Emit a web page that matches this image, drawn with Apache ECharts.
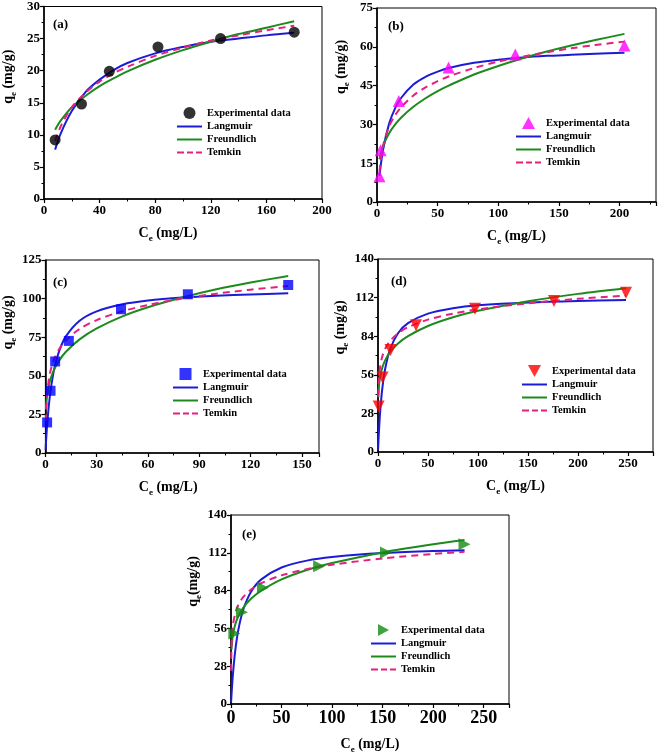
<!DOCTYPE html>
<html>
<head>
<meta charset="utf-8">
<script src="https://cdn.jsdelivr.net/npm/echarts@6/dist/echarts.min.js"></script>
<style>
html,body{margin:0;padding:0;background:#fff;}
#chart{width:658px;height:755px;}
</style>
</head>
<body>
<div id="chart"></div>
<script>
// ---------- Data ----------
// Panel (a)
const expX_a = [8, 27, 47, 82, 127, 180];
const expY_a = [9.2, 14.8, 19.9, 23.7, 25.0, 26.0];
const fitX_a = [8, 12, 20, 30, 40, 50, 60, 80, 100, 120, 140, 160, 180];
const lang_a = [7.7, 10.2, 13.7, 16.7, 18.6, 20.1, 21.2, 22.7, 23.7, 24.5, 25.0, 25.5, 25.9];
const freu_a = [10.8, 12.2, 14.3, 16.1, 17.6, 18.8, 19.9, 21.7, 23.2, 24.5, 25.7, 26.7, 27.7];
const temk_a = [9.0, 11.3, 14.3, 16.6, 18.3, 19.6, 20.6, 22.3, 23.6, 24.7, 25.5, 26.3, 27.0];

// Panel (b)
const expX_b = [2, 3, 18, 59, 114, 204];
const expY_b = [10, 20, 39, 52, 57, 60.5];
const fitX_b = [2, 5, 10, 15, 20, 30, 40, 50, 60, 80, 100, 120, 140, 160, 180, 204];
const lang_b = [10.1, 20.2, 30.3, 36.3, 40.3, 45.4, 48.4, 50.4, 51.9, 53.8, 55.0, 55.9, 56.5, 56.9, 57.3, 57.7];
const freu_b = [16.5, 21.7, 26.6, 30.0, 32.7, 36.8, 40.1, 42.9, 45.2, 49.3, 52.6, 55.6, 58.2, 60.5, 62.6, 65.0];
const temk_b = [11.7, 21.7, 29.2, 33.6, 36.7, 41.2, 44.3, 46.7, 48.7, 51.8, 54.3, 56.2, 57.9, 59.4, 60.7, 62.0];

// Panel (c)
const expX_c = [1, 3, 5.7, 13.7, 44.2, 83.3, 142];
const expY_c = [19.8, 40.3, 59.3, 72.6, 93.1, 102.8, 108.8];
const fitX_c = [0.1, 0.3, 1, 2, 3, 5, 8, 12, 20, 30, 45, 60, 80, 100, 120, 142];
const lang_c = [2.1, 6.1, 17.8, 30.6, 40.1, 53.5, 65.8, 75.5, 85.6, 91.7, 96.3, 98.8, 100.7, 101.9, 102.7, 103.4];
const freu_c = [null, 28.5, 37.4, 43.7, 47.9, 53.8, 59.8, 65.6, 73.6, 80.7, 88.5, 94.4, 100.7, 106.0, 110.4, 114.7];
const temk_c = [null, 20.4, 37.6, 47.5, 53.3, 60.5, 67.2, 73.0, 80.3, 86.1, 91.8, 95.9, 100.0, 103.2, 105.8, 108.2];

// Panel (d)
const expX_d = [0.6, 4.5, 12.5, 38, 97, 176, 248];
const expY_d = [33, 54, 74, 92, 104, 109.6, 115.6];
const fitX_d = [0.1, 0.3, 1, 2, 4, 7, 12, 20, 30, 50, 75, 100, 150, 200, 248];
const lang_d = [1.8, 5.2, 15.6, 27.4, 44.1, 59.7, 74.3, 86.1, 93.5, 100.4, 104.3, 106.4, 108.5, 109.6, 110.2];
const freu_d = [null, 39.6, 48.2, 54.0, 60.5, 66.3, 72.4, 78.7, 84.1, 91.4, 97.7, 102.4, 109.4, 114.7, 118.8];
const temk_d = [null, 40.5, 53.6, 61.1, 68.6, 74.7, 80.5, 86.1, 90.5, 96.0, 100.4, 103.5, 107.9, 111.1, 113.4];

// Panel (e)
const expX_e = [3.3, 10.8, 31.6, 87.2, 153.3, 231];
const expY_e = [52.3, 68, 86.2, 102.1, 112.2, 118.3];
const fitX_e = [0.1, 0.5, 1, 2, 4, 7, 12, 20, 30, 50, 75, 100, 150, 200, 231];
const lang_e = [1.4, 6.7, 12.6, 22.8, 38.3, 53.9, 69.6, 83.3, 92.3, 101.1, 106.2, 108.9, 111.8, 113.3, 113.9];
const freu_e = [null, 40.2, 45.5, 51.6, 58.4, 64.6, 71.2, 78.1, 84.0, 92.3, 99.3, 104.4, 112.3, 118.3, 121.4];
const temk_e = [24.6, 42.9, 50.8, 58.7, 66.6, 73.0, 79.1, 84.9, 89.5, 95.3, 99.9, 103.2, 107.8, 111.1, 112.7];

const panelLabels = ['(a)', '(b)', '(c)', '(d)', '(e)'];
const legendNames = ['Experimental data', 'Langmuir', 'Freundlich', 'Temkin'];

// ---------- Styling / layout ----------
const F = '"Liberation Serif", "Times New Roman", serif';
const C_LANG = '#1c1cd6', C_FREU = '#1e8a1e', C_TEMK = '#e6207e';

const ICON_LINE = 'path://M0,0h25v2h-25z';
const ICON_DASH = 'path://M0,0h7v2h-7z M10,0h6v2h-6z M19,0h6v2h-6z';
const ICONS = {
  circle:'circle',
  up:'path://M6,0L12,11L0,11Z',
  down:'path://M0,0L12,0L6,11Z',
  right:'path://M0,0L11,6L0,12Z',
  square:'path://M0,0h10v10h-10z'
};

const panels = [
  {key:'a', expX:expX_a, expY:expY_a, fitX:fitX_a, lang:lang_a, freu:freu_a, temk:temk_a,
   grid:{left:43, top:5, width:279, height:194}, xMax:200, xInt:40, yMax:30, yInt:5,
   symbol:'circle', symRot:0, symSize:11, symColor:'#000', icon:ICONS.circle,
   legend:{left:177, top:107}, label:{left:53, top:18}, yName:'{m|q}{s|e}{m| (mg/g)}', xFont:13, yPad:52, xPad:[0,30,0,0]},
  {key:'b', expX:expX_b, expY:expY_b, fitX:fitX_b, lang:lang_b, freu:freu_b, temk:temk_b,
   grid:{left:377, top:8, width:279, height:194}, xMax:230, xInt:50, yMax:75, yInt:15,
   symbol:'triangle', symRot:0, symSize:12, symColor:'#ff00ff', icon:ICONS.up,
   legend:{left:516, top:117}, label:{left:388, top:20}, yName:'{m|q}{s|e}{m| (mg/g)}', xFont:13, yPad:76, xPad:[0,0,0,0]},
  {key:'c', expX:expX_c, expY:expY_c, fitX:fitX_c, lang:lang_c, freu:freu_c, temk:temk_c,
   grid:{left:39, top:260, width:280, height:193}, xMax:160, xInt:30, yMax:125, yInt:25,
   symbol:'rect', symRot:0, symSize:10, symColor:'#0000ff', icon:ICONS.square,
   legend:{left:173, top:368}, label:{left:53, top:276}, yName:'{m|q}{s|e}{m| (mg/g)}', xFont:13, yPad:68, xPad:[0,28,0,0]},
  {key:'d', expX:expX_d, expY:expY_d, fitX:fitX_d, lang:lang_d, freu:freu_d, temk:temk_d,
   grid:{left:378, top:259, width:275, height:193}, xMax:275, xInt:50, yMax:140, yInt:28,
   symbol:'triangle', symRot:180, symSize:12, symColor:'#ff0000', icon:ICONS.down,
   legend:{left:522, top:365}, label:{left:391, top:275}, yName:'{m|q}{s|e}{m| (mg/g)}', xFont:13, yPad:56, xPad:[0,0,0,0]},
  {key:'e', expX:expX_e, expY:expY_e, fitX:fitX_e, lang:lang_e, freu:freu_e, temk:temk_e,
   grid:{left:231, top:515, width:278, height:193}, xMax:275, xInt:50, yMax:140, yInt:28,
   symbol:'triangle', symRot:-90, symSize:12, symColor:'#138a13', icon:ICONS.right,
   legend:{left:371, top:624}, label:{left:242, top:528}, yName:'{m|q}{s|e}{m|(mg/g)}', xFont:18, yPad:56, xPad:[0,0,0,0]}
];

const rich = {
  m:{fontFamily:F, fontWeight:'bold', fontSize:14, lineHeight:20, verticalAlign:'middle', color:'#000'},
  s:{fontFamily:F, fontWeight:'bold', fontSize:9, lineHeight:10, verticalAlign:'bottom', color:'#000'}
};

const zip = (xs, ys) => xs.map((x, i) => [x, ys[i] === null ? '-' : ys[i]]);

const option = {
  backgroundColor:'#fff',
  animation:false,
  title:[], grid:[], xAxis:[], yAxis:[], legend:[], series:[]
};

panels.forEach((p, i) => {
  option.grid.push(Object.assign({show:true, borderColor:'#000', borderWidth:1, backgroundColor:'transparent', containLabel:false}, p.grid));
  option.title.push({text:panelLabels[i], left:p.label.left, top:p.label.top, padding:0,
    textStyle:{fontFamily:F, fontWeight:'bold', fontSize:13, color:'#000'}});
  option.xAxis.push({
    type:'value', gridIndex:i, min:0, max:p.xMax, interval:p.xInt,
    name:'{m|C}{s|e}{m| (mg/L)}', nameLocation:'middle', nameGap:p.xFont > 14 ? 30 : 24,
    nameTextStyle:{rich:rich, padding:p.xPad},
    axisLine:{lineStyle:{color:'#000', width:1.6}},
    axisTick:{inside:false, length:4, lineStyle:{color:'#000', width:1.2}},
    minorTick:{show:true, splitNumber:2, length:2.5, lineStyle:{color:'#000', width:1}},
    axisLabel:{fontFamily:F, fontWeight:'bold', fontSize:p.xFont, color:'#000', margin:5, showMaxLabel:p.xMax % p.xInt === 0},
    splitLine:{show:false}
  });
  option.yAxis.push({
    type:'value', gridIndex:i, min:0, max:p.yMax, interval:p.yInt,
    name:p.yName, nameLocation:'middle', nameGap:26,
    nameTextStyle:{rich:rich, padding:[0,0,0,p.yPad]},
    axisLine:{lineStyle:{color:'#000', width:1.6}},
    axisTick:{inside:false, length:4, lineStyle:{color:'#000', width:1.2}},
    minorTick:{show:true, splitNumber:2, length:2.5, lineStyle:{color:'#000', width:1}},
    axisLabel:{fontFamily:F, fontWeight:'bold', fontSize:13, color:'#000', margin:4},
    splitLine:{show:false}
  });
  const nm = n => n + '@' + p.key;
  option.legend.push({
    data:[
      {name:nm('Experimental data'), icon:p.icon},
      {name:nm('Langmuir'), icon:ICON_LINE},
      {name:nm('Freundlich'), icon:ICON_LINE},
      {name:nm('Temkin'), icon:ICON_DASH}
    ],
    orient:'vertical', left:p.legend.left, top:p.legend.top,
    itemWidth:25, itemHeight:12, itemGap:2, padding:0, selectedMode:false, symbolKeepAspect:true,
    formatter:n => n.split('@')[0],
    textStyle:{fontFamily:F, fontWeight:'bold', fontSize:10.5, color:'#000'}
  });
  const lineBase = {type:'line', xAxisIndex:i, yAxisIndex:i, showSymbol:false, symbol:'none',
    smooth:0.3, clip:true, z:3};
  option.series.push(Object.assign({}, lineBase, {name:nm('Langmuir'), data:zip(p.fitX, p.lang),
    color:C_LANG, itemStyle:{color:C_LANG}, lineStyle:{color:C_LANG, width:2}}));
  option.series.push(Object.assign({}, lineBase, {name:nm('Freundlich'), data:zip(p.fitX, p.freu),
    color:C_FREU, itemStyle:{color:C_FREU}, lineStyle:{color:C_FREU, width:2}}));
  option.series.push(Object.assign({}, lineBase, {name:nm('Temkin'), data:zip(p.fitX, p.temk),
    color:C_TEMK, itemStyle:{color:C_TEMK}, lineStyle:{color:C_TEMK, width:2, type:[7,5]}}));
  option.series.push({type:'scatter', name:nm('Experimental data'), xAxisIndex:i, yAxisIndex:i,
    data:zip(p.expX, p.expY), symbol:p.symbol, symbolRotate:p.symRot, symbolSize:p.symSize,
    color:p.symColor, itemStyle:{color:p.symColor}, z:4, clip:false});
});

const chart = echarts.init(document.getElementById('chart'), null, {renderer:'canvas'});
chart.setOption(option);
</script>
</body>
</html>
